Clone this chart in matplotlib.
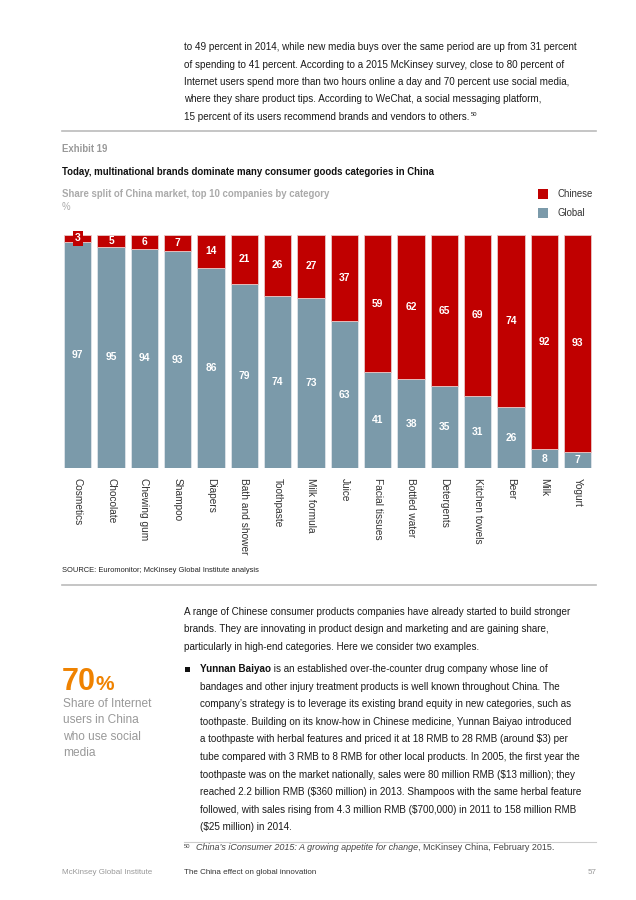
import matplotlib
matplotlib.use("Agg")
import matplotlib.pyplot as plt
from matplotlib.patches import Rectangle
from matplotlib.lines import Line2D

categories = ["Cosmetics", "Chocolate", "Chewing gum", "Shampoo", "Diapers",
              "Bath and shower", "Toothpaste", "Milk formula", "Juice",
              "Facial tissues", "Bottled water", "Detergents", "Kitchen towels",
              "Beer", "Milk", "Yogurt"]
chinese = [3, 5, 6, 7, 14, 21, 26, 27, 37, 59, 62, 65, 69, 74, 92, 93]
global_ = [97, 95, 94, 93, 86, 79, 74, 73, 63, 41, 38, 35, 31, 26, 8, 7]

top_para = [
    "to 49 percent in 2014, while new media buys over the same period are up from 31 percent",
    "of spending to 41 percent. According to a 2015 McKinsey survey, close to 80 percent of",
    "Internet users spend more than two hours online a day and 70 percent use social media,",
    "where they share product tips. According to WeChat, a social messaging platform,",
    "15 percent of its users recommend brands and vendors to others.",
]
mid_para = [
    "A range of Chinese consumer products companies have already started to build stronger",
    "brands. They are innovating in product design and marketing and are gaining share,",
    "particularly in high-end categories. Here we consider two examples.",
]
bullet_lines = [
    " is an established over-the-counter drug company whose line of",
    "bandages and other injury treatment products is well known throughout China. The",
    "company\u2019s strategy is to leverage its existing brand equity in new categories, such as",
    "toothpaste. Building on its know-how in Chinese medicine, Yunnan Baiyao introduced",
    "a toothpaste with herbal features and priced it at 18 RMB to 28 RMB (around $3) per",
    "tube compared with 3 RMB to 8 RMB for other local products. In 2005, the first year the",
    "toothpaste was on the market nationally, sales were 80 million RMB ($13 million); they",
    "reached 2.2 billion RMB ($360 million) in 2013. Shampoos with the same herbal feature",
    "followed, with sales rising from 4.3 million RMB ($700,000) in 2011 to 158 million RMB",
    "($25 million) in 2014.",
]
side_note = ["Share of Internet", "users in China", "who use social", "media"]

RED = "#c00000"
BLUE = "#7b9aaa"
ORANGE = "#ef8200"

W, H = 636, 900
plt.rcParams["font.family"] = ["Liberation Sans", "DejaVu Sans"]
fig = plt.figure(figsize=(W / 100, H / 100), dpi=100)
renderer = fig.canvas.get_renderer()


def put(x, y, s, **kw):
    kw.setdefault("va", "center")
    return fig.text(x / W, 1 - y / H, s, parse_math=False, **kw)


def width_px(t):
    return t.get_window_extent(renderer).width


def hline(x0, x1, y, color="#bbbbbb", lw=1.2):
    fig.add_artist(Line2D([x0 / W, x1 / W], [1 - y / H] * 2, color=color, lw=lw,
                          transform=fig.transFigure))


BODY = 7.15
TXT = "#1a1a1a"

# top paragraph
for i, line in enumerate(top_para):
    t = put(184, 47 + i * 17.5, line, fontsize=BODY, color=TXT)
put(184 + width_px(t) + 1, 114, "50", fontsize=4.2, color=TXT)
hline(62, 596, 131)

# exhibit header
put(62, 149, "Exhibit 19", fontsize=6.9, color="#999999", fontweight="bold")
put(62, 172, "Today, multinational brands dominate many consumer goods categories in China",
    fontsize=6.95, color="#111111", fontweight="bold")
put(62, 194, "Share split of China market, top 10 companies by category",
    fontsize=6.95, color="#aaaaaa", fontweight="bold")
put(62, 207, "%", fontsize=6.9, color="#aaaaaa")

# legend
for yy, col, lab in [(194, RED, "Chinese"), (213, BLUE, "Global")]:
    fig.add_artist(Rectangle((538 / W, 1 - (yy + 5) / H), 10 / W, 10 / H,
                             transform=fig.transFigure, facecolor=col, edgecolor="none"))
    put(557, yy, lab, fontsize=6.9, color="#333333")

# bars
pitch = 33.33
left = 77.75 - 0.5 * pitch
ax = fig.add_axes([left / W, 1 - 468 / H, 16 * pitch / W, 233 / H])
x = list(range(len(categories)))
bw = 0.825
ax.bar(x, global_, width=bw, color=BLUE, edgecolor="#dfe5ea", linewidth=0.6)
ax.bar(x, chinese, width=bw, bottom=global_, color=RED, edgecolor="#e8c8c8", linewidth=0.6)
ax.set_xlim(-0.5, len(categories) - 0.5)
ax.set_ylim(0, 100)
ax.axis("off")

for i in x:
    g, c = global_[i], chinese[i]
    ax.text(i, g / 2, str(g), ha="center", va="center", color="white",
            fontsize=7.4, fontweight="bold")
    box = None
    if c < 5:
        box = dict(facecolor=RED, edgecolor="none", pad=1.5)
    ax.text(i, g + c / 2, str(c), ha="center", va="center", color="white",
            fontsize=7.4, fontweight="bold", bbox=box)
    ax.text(i, -4.3, categories[i], rotation=270, ha="center", va="top",
            fontsize=7.3, color="#333333")

put(62, 570, "SOURCE: Euromonitor; McKinsey Global Institute analysis",
    fontsize=5.45, color="#222222")
hline(62, 596, 585)

# body text
for i, line in enumerate(mid_para):
    put(184, 612 + i * 17.5, line, fontsize=BODY, color=TXT)

fig.add_artist(Rectangle((185 / W, 1 - 671.5 / H), 5 / W, 5 / H,
                         transform=fig.transFigure, facecolor="#111111", edgecolor="none"))
for i, line in enumerate(bullet_lines):
    yy = 669 + i * 17.6
    if i == 0:
        b = put(200, yy, "Yunnan Baiyao", fontsize=BODY, color="#111111", fontweight="bold")
        put(200 + width_px(b), yy, line, fontsize=BODY, color=TXT)
    else:
        put(200, yy, line, fontsize=BODY, color=TXT)

# side note
n70 = put(62, 690, "70", fontsize=22, color=ORANGE, fontweight="bold", va="baseline")
put(62 + width_px(n70) - 1, 690, "%", fontsize=15, color=ORANGE, fontweight="bold",
    va="baseline")
for i, line in enumerate(side_note):
    put(63, 704 + i * 16.3, line, fontsize=8.6, color="#999999")

# footnote and footer
hline(184, 596, 842, color="#cccccc", lw=0.8)
put(184, 846, "50", fontsize=4.2, color="#444444")
fn = put(196, 848, "China\u2019s iConsumer 2015: A growing appetite for change",
         fontsize=6.5, color="#444444", style="italic")
put(196 + width_px(fn), 848, ", McKinsey China, February 2015.", fontsize=6.5,
    color="#444444")
put(62, 873, "McKinsey Global Institute", fontsize=5.8, color="#999999")
put(184, 873, "The China effect on global innovation", fontsize=5.8, color="#333333")
put(596, 873, "57", fontsize=5.8, color="#999999", ha="right")

fig.savefig("out.png", dpi=100)
